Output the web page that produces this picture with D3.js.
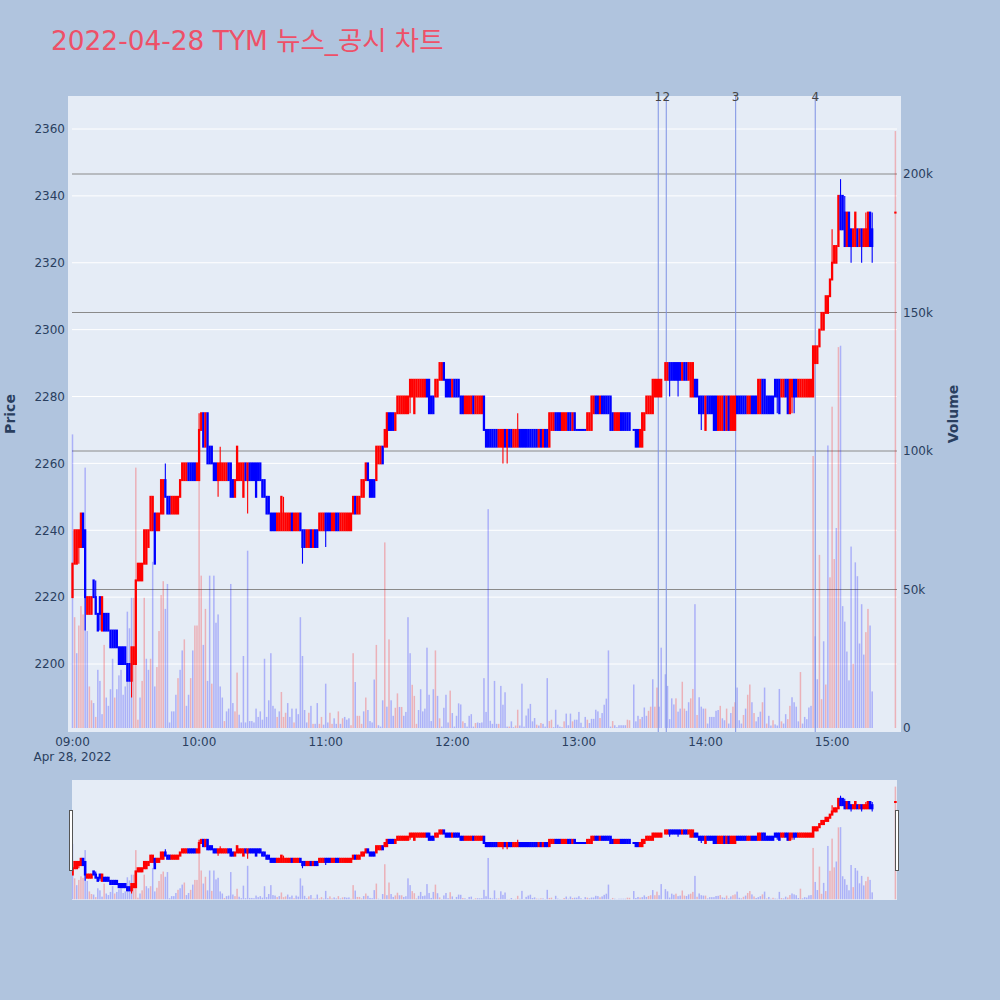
<!DOCTYPE html>
<html><head><meta charset="utf-8">
<script src="https://cdn.jsdelivr.net/npm/d3@7"></script>
<style>body{margin:0;background:#B0C4DE;}svg{display:block;}</style>
</head><body><svg id="c" width="1000" height="1000"></svg>
<script>
const chartTitle = "2022-04-28 TYM 뉴스_공시 차트";
const sessionStart = [2022, 3, 28, 9, 0]; // first 1-minute candle
const openP = [
2220,2230,2230,2235,2235,2245,2240,2215,2215,2215, 2225,2220,2215,2220,2210,2215,2215,2215,2210,2210,
2210,2210,2205,2205,2205,2205,2200,2200,2195,2200, 2200,2225,2225,2225,2230,2230,2235,2240,2240,2245,
2240,2240,2245,2245,2255,2250,2250,2245,2245,2245, 2245,2250,2255,2255,2255,2260,2260,2260,2260,2255,
2255,2270,2275,2265,2275,2265,2265,2260,2260,2255, 2255,2255,2255,2255,2260,2260,2255,2250,2255,2255,
2255,2250,2260,2255,2260,2260,2260,2260,2260,2260, 2255,2255,2250,2250,2245,2245,2245,2240,2240,2240,
2240,2240,2240,2240,2245,2240,2240,2240,2245,2240, 2240,2235,2235,2240,2235,2240,2240,2240,2240,2240,
2245,2245,2245,2240,2240,2245,2245,2240,2240,2240, 2240,2240,2240,2245,2250,2245,2245,2250,2250,2255,
2260,2255,2255,2255,2255,2260,2260,2265,2265,2265, 2275,2275,2275,2270,2275,2275,2275,2275,2275,2275,
2280,2280,2275,2280,2280,2280,2280,2280,2285,2285, 2280,2280,2280,2280,2285,2285,2290,2285,2285,2285,
2280,2285,2285,2285,2280,2280,2275,2275,2275,2275, 2280,2275,2275,2275,2275,2280,2270,2270,2270,2270,
2270,2270,2265,2265,2265,2270,2265,2270,2270,2265, 2265,2265,2270,2270,2270,2270,2270,2270,2270,2270,
2270,2265,2270,2265,2270,2270,2265,2270,2270,2275, 2275,2275,2270,2270,2270,2275,2275,2270,2275,2270,
2270,2270,2270,2270,2270,2270,2270,2275,2280,2280, 2275,2280,2280,2280,2280,2280,2275,2270,2270,2270,
2275,2275,2275,2275,2275,null,2270,2270,2270,2265, 2265,2270,2275,2275,2275,2275,2280,2280,2280,2280,
null,2285,2285,2290,2290,2290,2290,2290,2290,2285, 2290,2290,2285,2280,2280,2285,2285,2280,2280,2280,
2270,2280,2280,2280,2280,2280,2270,2270,2270,2280, 2270,2280,2270,2270,2270,2280,2280,2280,2280,2280,
2275,2275,2280,2280,2280,2275,2275,2285,2285,2280, 2280,2280,2280,2285,2285,2285,2280,2280,2285,2285,
2275,2280,2285,2285,2280,2280,2280,2280,2280,2280, 2280,2280,2290,2290,2295,2300,2300,2305,2305,2310,
2315,2320,2320,2325,2340,2340,2335,2325,2335,2330, 2325,2325,2330,2325,2330,2325,2325,2325,2335,2330];
const highP = [
2230,2240,2240,2240,2245,2245,2240,2220,2220,2220, 2225,2225,2215,2220,2220,2215,2215,2215,2210,2210,
2210,2210,2205,2205,2205,2205,2200,2200,2205,2205, 2225,2230,2230,2230,2240,2240,2240,2250,2250,2245,
2245,2245,2255,2255,2260,2250,2250,2250,2250,2250, 2250,2255,2260,2260,2260,2260,2260,2260,2260,2260,
2275,2275,2275,2275,2275,2265,2265,2260,2260,2260, 2265,2260,2260,2260,2260,2260,2255,2255,2265,2260,
2260,2260,2260,2260,2260,2260,2260,2260,2260,2260, 2255,2255,2250,2250,2245,2245,2245,2245,2245,2250,
2250,2245,2245,2245,2245,2245,2245,2245,2245,2240, 2240,2240,2240,2240,2240,2240,2240,2245,2245,2245,
2245,2245,2245,2245,2245,2245,2245,2245,2245,2245, 2245,2245,2245,2250,2250,2250,2250,2255,2255,2260,
2260,2255,2255,2255,2265,2265,2265,2265,2270,2275, 2275,2275,2275,2275,2280,2280,2280,2280,2280,2280,
2285,2285,2285,2285,2285,2285,2285,2285,2285,2285, 2280,2280,2285,2285,2290,2290,2290,2285,2285,2285,
2285,2285,2285,2285,2280,2280,2280,2280,2280,2280, 2280,2280,2280,2280,2280,2280,2270,2270,2270,2270,
2270,2270,2270,2270,2270,2270,2270,2270,2270,2270, 2270,2275,2270,2270,2270,2270,2270,2270,2270,2270,
2270,2270,2270,2270,2270,2270,2275,2275,2275,2275, 2275,2275,2275,2275,2275,2275,2275,2275,2275,2270,
2270,2270,2270,2270,2275,2275,2280,2280,2280,2280, 2280,2280,2280,2280,2280,2280,2275,2275,2275,2275,
2275,2275,2275,2275,2275,null,2270,2270,2270,2270, 2275,2275,2280,2280,2280,2285,2285,2285,2285,2285,
null,2290,2290,2290,2290,2290,2290,2290,2290,2290, 2290,2290,2290,2290,2290,2285,2285,2280,2280,2280,
2280,2280,2280,2280,2280,2280,2280,2280,2280,2280, 2280,2280,2280,2280,2280,2280,2280,2280,2280,2280,
2280,2280,2280,2280,2280,2285,2285,2285,2285,2280, 2280,2280,2280,2285,2285,2285,2285,2285,2285,2285,
2285,2285,2285,2285,2285,2285,2285,2285,2285,2285, 2285,2295,2295,2295,2300,2305,2305,2310,2310,2315,
2330,2325,2325,2340,2345,2340,2340,2335,2335,2330, 2330,2335,2330,2330,2330,2330,2335,2335,2335,2335];
const lowP = [
2220,2230,2230,2230,2235,2235,2210,2215,2215,2215, 2220,2215,2210,2210,2210,2210,2210,2210,2205,2205,
2205,2205,2200,2200,2200,2200,2195,2195,2190,2200, 2200,2225,2225,2225,2230,2230,2235,2240,2240,2230,
2240,2240,2245,2245,2250,2245,2245,2245,2245,2245, 2245,2250,2255,2255,2255,2255,2255,2255,2255,2255,
2255,2270,2265,2265,2260,2260,2260,2255,2255,2250, 2255,2255,2255,2255,2255,2250,2250,2250,2255,2255,
2255,2250,2255,2245,2255,2255,2255,2250,2255,2255, 2250,2250,2245,2245,2240,2240,2240,2240,2240,2240,
2240,2240,2240,2240,2240,2240,2240,2240,2240,2230, 2235,2235,2235,2235,2235,2235,2235,2240,2240,2240,
2235,2240,2240,2240,2240,2240,2240,2240,2240,2240, 2240,2240,2240,2245,2245,2245,2245,2250,2250,2255,
2255,2250,2250,2250,2255,2260,2260,2260,2265,2265, 2270,2270,2270,2270,2275,2275,2275,2275,2275,2275,
2275,2280,2275,2280,2280,2280,2280,2280,2280,2275, 2275,2275,2280,2280,2285,2285,2285,2280,2280,2280,
2280,2280,2280,2280,2275,2275,2275,2275,2275,2275, 2275,2275,2275,2275,2275,2270,2265,2265,2265,2265,
2265,2265,2265,2265,2260,2265,2260,2265,2265,2265, 2265,2265,2265,2265,2265,2265,2265,2265,2265,2265,
2265,2265,2265,2265,2265,2265,2265,2270,2270,2270, 2270,2270,2270,2270,2270,2270,2270,2270,2270,2270,
2270,2270,2270,2270,2270,2270,2270,2275,2275,2275, 2275,2275,2275,2275,2275,2270,2270,2270,2270,2270,
2270,2270,2270,2270,2270,null,2270,2265,2265,2265, 2265,2270,2275,2275,2275,2275,2280,2280,2280,2280,
null,2285,2285,2280,2285,2285,2285,2280,2285,2285, 2285,2285,2285,2280,2280,2280,2280,2275,2270,2275,
2270,2275,2275,2275,2270,2270,2270,2270,2270,2270, 2270,2270,2270,2270,2270,2275,2275,2275,2275,2275,
2275,2275,2275,2275,2275,2275,2275,2275,2275,2275, 2275,2275,2275,2280,2275,2275,2280,2280,2280,2275,
2275,2275,2275,2280,2280,2280,2280,2280,2280,2280, 2280,2280,2290,2290,2295,2300,2300,2305,2305,2310,
2315,2320,2320,2325,2330,2330,2325,2325,2325,2320, 2325,2325,2325,2325,2320,2325,2325,2325,2325,2320];
const closeP = [
2230,2240,2240,2240,2245,2235,2220,2220,2220,2220, 2220,2215,2210,2215,2220,2210,2210,2210,2205,2205,
2205,2205,2200,2200,2200,2200,2195,2195,2205,2205, 2225,2230,2230,2230,2240,2240,2240,2250,2250,2230,
2245,2245,2255,2255,2250,2245,2245,2250,2250,2250, 2250,2255,2260,2260,2260,2255,2255,2255,2255,2260,
2270,2275,2265,2275,2260,2260,2260,2255,2255,2260, 2260,2260,2260,2260,2255,2250,2250,2255,2265,2260,
2260,2260,2255,2260,2255,2255,2255,2250,2255,2255, 2250,2250,2245,2245,2240,2240,2240,2245,2245,2250,
2245,2245,2245,2245,2240,2245,2245,2245,2240,2235, 2235,2240,2240,2235,2240,2235,2235,2245,2245,2245,
2240,2240,2240,2245,2245,2240,2240,2245,2245,2245, 2245,2245,2245,2250,2245,2250,2250,2255,2255,2260,
2255,2250,2250,2250,2265,2265,2265,2260,2270,2275, 2270,2270,2270,2275,2280,2280,2280,2280,2280,2280,
2285,2285,2285,2285,2285,2285,2285,2285,2280,2275, 2275,2275,2285,2285,2290,2290,2285,2280,2280,2280,
2285,2280,2280,2280,2275,2275,2280,2280,2280,2280, 2275,2280,2280,2280,2280,2270,2265,2265,2265,2265,
2265,2265,2270,2270,2270,2265,2270,2265,2265,2270, 2270,2270,2265,2265,2265,2265,2265,2265,2265,2265,
2265,2270,2265,2270,2265,2265,2275,2275,2275,2270, 2270,2270,2275,2275,2275,2270,2270,2275,2270,2270,
2270,2270,2270,2270,2275,2275,2280,2280,2275,2275, 2280,2275,2275,2275,2275,2270,2270,2275,2275,2275,
2270,2270,2270,2270,2270,null,2270,2265,2265,2270, 2275,2275,2280,2280,2280,2285,2285,2285,2285,2285,
null,2290,2290,2285,2285,2285,2285,2285,2285,2290, 2285,2285,2290,2290,2290,2280,2280,2275,2275,2275,
2280,2275,2275,2275,2270,2270,2280,2280,2280,2270, 2280,2270,2280,2280,2280,2275,2275,2275,2275,2275,
2280,2280,2275,2275,2275,2285,2285,2275,2275,2275, 2275,2275,2275,2280,2280,2275,2285,2285,2280,2275,
2285,2285,2280,2280,2285,2285,2285,2285,2285,2285, 2285,2295,2295,2295,2300,2305,2305,2310,2310,2315,
2320,2325,2325,2340,2330,2330,2325,2335,2325,2325, 2330,2335,2325,2330,2325,2330,2330,2335,2325,2325];
// volume in thousands of shares
const volumeK = [
106,40,27,37,44,41,94,35,15,10, 9,4,21,17,5,30,11,8,14,25,
11,14,19,21,12,15,42,36,47,47, 94,3,11,17,47,25,21,25,60,15,
22,35,48,53,43,52,2,6,6,12, 18,21,28,32,8,12,18,28,37,37,
94,55,30,43,17,55,16,55,38,41, 15,11,2.5,6,7,52,9,6,20,4.8,
2,26,2,64,2.5,2.5,2,7,4,6, 3,25,4,10,27,8,7,4,6,13,
4,5.5,9,4,7,2,7,5,40,26, 6.5,2,5.5,8,1.5,1.5,9,1.5,4,1.2,
16,2,5.5,1.5,3.5,1.5,6,1.5,3.5,4, 3,3.5,1,27,16.6,4.4,4.4,1.5,6,11,
6.5,2.5,2,17.5,30,1,0.5,10,67,7.7, 32,10,4.4,7.3,12.5,7.6,7.6,4.4,5.8,40,
27,15.6,11.6,1.5,6.5,14,6,7,29,12, 2.5,14,28,11.6,3.5,0.5,7.3,12,2,13.5,
5.4,0.5,4.4,8.9,8.5,2.4,1.8,0.5,4.4,5, 0.5,1.8,2,1.8,2,18,5.8,79,2.6,1.5,
17,1.5,1.5,15.2,8.4,12.9,0.5,0.5,2.4,0.3, 0.9,6.6,0.9,16,0.5,4.5,7,8.7,2.4,3.6,
1.2,0.9,1.8,1.5,0.5,18,2.5,3,0.3,6.6, 1.2,0.5,0.3,2.4,5.2,1,5.2,2.4,3,3,
5.8,1.9,0.3,4,3,1.8,3.3,3.3,6.6,6, 3.6,5.4,8.4,10.6,28,0.5,2.5,1,0.3,1,
1,1,1,3,2.8,0,15.7,2.4,4.4,3.2, 4,7.4,4.4,6.2,7.7,17.6,7.7,14.6,7.7,29,
0,19.4,15.2,3.2,10.7,8.5,10.7,5.9,7,16.7, 7,6.2,9.3,10.7,14.1,44.7,4.7,11.1,7.7,7,
7,1.6,4,4,4,6.2,6.5,8,3.5,2.8, 7,1.6,5.4,7.7,9.3,14.6,2.8,1.6,4.7,7,
12,15.7,9.3,5.4,2.4,4,5.9,9.3,14.6,1.6, 4.4,0.9,2.8,1.3,0.9,14.1,2.4,1.6,5,3.2,
8,11.1,9.3,7.7,2.4,20.2,1.6,4,3.2,7.4, 8,98.2,33.1,17.6,62.5,10.4,31.3,15.7,102,54.4,
116,61,72.2,137.5,138,44,38.4,27.6,17.2,65.5, 23.2,59.8,54.8,30.5,44.7,26.5,34.6,43,37,13.2];
// r = buy-side (red), b = sell-side (blue)
const volumeSide = (
"brbrrrbbrr"+"brbbbrbbbb"+"rbbbbbbbbr"+"rrbrrbbrbb"+"rrrrbbbbbb"+"rbbrbbrbrr"+
"rrbrbbrbbb"+"bbrbbbbrrb"+"bbbbbbbbbb"+"bbbbbbbrbr"+"rrbbbrbbbb"+"bbrbrbbrrb"+
"bbrrbbrbrb"+"bbrrbrrrbr"+"bbbbrbbbrb"+"rbbrrbrbbb"+"brrrbbbbbb"+"bbrbrbbbbr"+
"bbbbbrbbbb"+"brbbbbbbbb"+"bbrbbbbrbb"+"rrbbbbbbbb"+"rbrbbbrrbb"+"bbbrbbbrbb"+
"bbbbrbbbbb"+"rbbbbbrbbb"+"bbbrrbbbbr"+"bbbrrbrrbb"+"bbbbbbrbbr"+"rbbrrbrbbb"+
"rbbbbbbrbb"+"rbbrrbbbrb"+"rrbrbbbrbr"+"bbrbbbrbbr"+"rbbbbrbbbb"+"brbbrrbrbr"+
"rrbrbbbbbb"+"rbbbbbrrbb").split("");
// closing auction (15:30)
const closingTime = [15, 30];
const closingOHLC = [2335, 2335, 2335, 2335];
const closingVolumeK = [215.5];
const closingSide = ["r"];
// news / disclosure markers
const newsLabels = ["1", "2", "3", "4"];
const newsTimes = [[13,37,36],[13,41,24],[14,14,18],[14,52,0]];
const priceTicks = [2200,2220,2240,2260,2280,2300,2320,2340,2360];
const volumeTicks = [0,50,100,150,200];
const volumeTickLabels = ["0","50k","100k","150k","200k"];
const timeTickHours = [9,10,11,12,13,14,15];
const dateLabel = "Apr 28, 2022";

const RED = "#ff0000", BLUE = "#0000ff";
const FONT = "'DejaVu Sans', Verdana, 'Noto Sans CJK KR', sans-serif";
const TXT = "#2a3f5f";
const svg = d3.select("#c");

const day = (h, m, s=0) => new Date(2022, 3, 28, h, m, s);
const t0 = new Date(...sessionStart);
const rows = openP.map((o, i) => ({
  t: d3.timeMinute.offset(t0, i), o, h: highP[i], l: lowP[i], c: closeP[i],
  v: volumeK[i], s: volumeSide[i]
}));
rows.push({ t: day(...closingTime), o: closingOHLC[0], h: closingOHLC[1], l: closingOHLC[2],
  c: closingOHLC[3], v: closingVolumeK[0], s: closingSide[0] });

// scales
const x = d3.scaleTime().domain([day(9,0), day(15,30)]).range([72.5, 895.4]);
const yP = d3.scaleLinear().domain([2200, 2360]).range([664, 129]);
const yV = d3.scaleLinear().domain([0, 200]).range([728, 174]);
const P_DOM = [yP.invert(732), yP.invert(96)];
const V_DOM = [yV.invert(732), yV.invert(96)];
const yPs = d3.scaleLinear().domain(P_DOM).range([900, 780]);
const yVs = d3.scaleLinear().domain(V_DOM).range([900, 780]);

// background
svg.append("rect").attr("width", 1000).attr("height", 1000).attr("fill", "#B0C4DE");
svg.append("rect").attr("x", 68).attr("y", 96).attr("width", 833).attr("height", 636).attr("fill", "#E5ECF6");

const defs = svg.append("defs");
defs.append("clipPath").attr("id", "clipMain").append("rect").attr("x", 68).attr("y", 96).attr("width", 833).attr("height", 636);
defs.append("clipPath").attr("id", "clipSl").append("rect").attr("x", 72).attr("y", 780).attr("width", 825).attr("height", 120);

// grid
const grid = svg.append("g");
grid.selectAll(".pg").data(priceTicks).join("line")
  .attr("x1", 72).attr("x2", 897).attr("y1", d => yP(d)).attr("y2", d => yP(d))
  .attr("stroke", "#fff").attr("stroke-width", 1);
grid.selectAll(".vg").data(volumeTicks.slice(1)).join("line")
  .attr("x1", 72).attr("x2", 897).attr("y1", d => yV(d)).attr("y2", d => yV(d))
  .attr("stroke", "#8a8a8a").attr("stroke-width", 1);

function colorOf(d) {
  if (d.c > d.o) return RED;
  if (d.c < d.o) return BLUE;
  return d.s === "r" ? RED : BLUE;
}

function drawVolume(g, ys) {
  g.selectAll("rect.vol").data(rows.filter(d => d.v > 0)).join("rect").attr("class", "vol")
    .attr("x", d => x(d.t) - 0.75).attr("width", 1.5)
    .attr("y", d => ys(d.v)).attr("height", d => ys(0) - ys(d.v))
    .attr("fill", d => d.s === "r" ? RED : BLUE).attr("fill-opacity", 0.25);
}
function drawCandles(g, ys, bw) {
  const data = rows.filter(d => d.o !== null);
  g.selectAll("line.wick").data(data).join("line").attr("class", "wick")
    .attr("x1", d => x(d.t)).attr("x2", d => x(d.t))
    .attr("y1", d => ys(d.h)).attr("y2", d => ys(d.l))
    .attr("stroke", colorOf).attr("stroke-width", 1.1);
  g.selectAll("rect.body").data(data).join("rect").attr("class", "body")
    .attr("x", d => x(d.t) - bw / 2).attr("width", bw)
    .attr("y", d => ys(Math.max(d.o, d.c)) - 1)
    .attr("height", d => Math.abs(ys(d.o) - ys(d.c)) + 2)
    .attr("fill", colorOf);
}

const main = svg.append("g").attr("clip-path", "url(#clipMain)");
drawVolume(main.append("g"), yV);

// news markers
const news = newsTimes.map((t, i) => ({ t: day(...t), label: newsLabels[i] }));
main.append("g").selectAll("line").data(news).join("line")
  .attr("x1", d => x(d.t)).attr("x2", d => x(d.t)).attr("y1", 96).attr("y2", 732)
  .attr("stroke", "rgb(125,145,228)").attr("stroke-width", 1);

drawCandles(main.append("g"), yP, 2.3);

svg.append("g").selectAll("text").data(news).join("text")
  .attr("x", d => x(d.t)).attr("y", 101).attr("text-anchor", "middle")
  .attr("font-family", FONT).attr("font-size", 12).attr("fill", "#444").text(d => d.label);

// axes labels
svg.append("g").selectAll("text").data(priceTicks).join("text")
  .attr("x", 65).attr("y", d => yP(d) + 4.3).attr("text-anchor", "end")
  .attr("font-family", FONT).attr("font-size", 12).attr("fill", TXT).text(d => d);
svg.append("g").selectAll("text").data(volumeTicks).join("text")
  .attr("x", 903).attr("y", d => yV(d) + 4.3).attr("text-anchor", "start")
  .attr("font-family", FONT).attr("font-size", 12).attr("fill", TXT).text((d, i) => volumeTickLabels[i]);
svg.append("g").selectAll("text").data(timeTickHours).join("text")
  .attr("x", d => x(day(d, 0))).attr("y", 746).attr("text-anchor", "middle")
  .attr("font-family", FONT).attr("font-size", 12).attr("fill", TXT)
  .text(d => d3.timeFormat("%H:%M")(day(d, 0)));
svg.append("text").attr("x", x(day(9, 0))).attr("y", 761).attr("text-anchor", "middle")
  .attr("font-family", FONT).attr("font-size", 12).attr("fill", TXT).text(dateLabel);

svg.append("text").attr("transform", "translate(10,414) rotate(-90)")
  .attr("text-anchor", "middle").attr("dominant-baseline", "central")
  .attr("font-family", FONT).attr("font-size", 14).attr("font-weight", "bold").attr("fill", TXT).text("Price");
svg.append("text").attr("transform", "translate(953,414) rotate(-90)")
  .attr("text-anchor", "middle").attr("dominant-baseline", "central")
  .attr("font-family", FONT).attr("font-size", 14).attr("font-weight", "bold").attr("fill", TXT).text("Volume");

// title
svg.append("text").attr("x", 51).attr("y", 50).attr("font-family", FONT)
  .attr("font-size", 26.4).attr("fill", "#EE5068").text(chartTitle);

// range slider
svg.append("rect").attr("x", 72).attr("y", 780).attr("width", 825).attr("height", 120).attr("fill", "#E5ECF6");
const sl = svg.append("g").attr("clip-path", "url(#clipSl)");
drawVolume(sl.append("g"), yVs);
drawCandles(sl.append("g"), yPs, 2.6);
[69.5, 895.5].forEach(gx => {
  svg.append("rect").attr("x", gx).attr("y", 810.5).attr("width", 3).attr("height", 60)
    .attr("fill", "#fff").attr("stroke", "#555").attr("stroke-width", 1);
});
</script></body></html>
